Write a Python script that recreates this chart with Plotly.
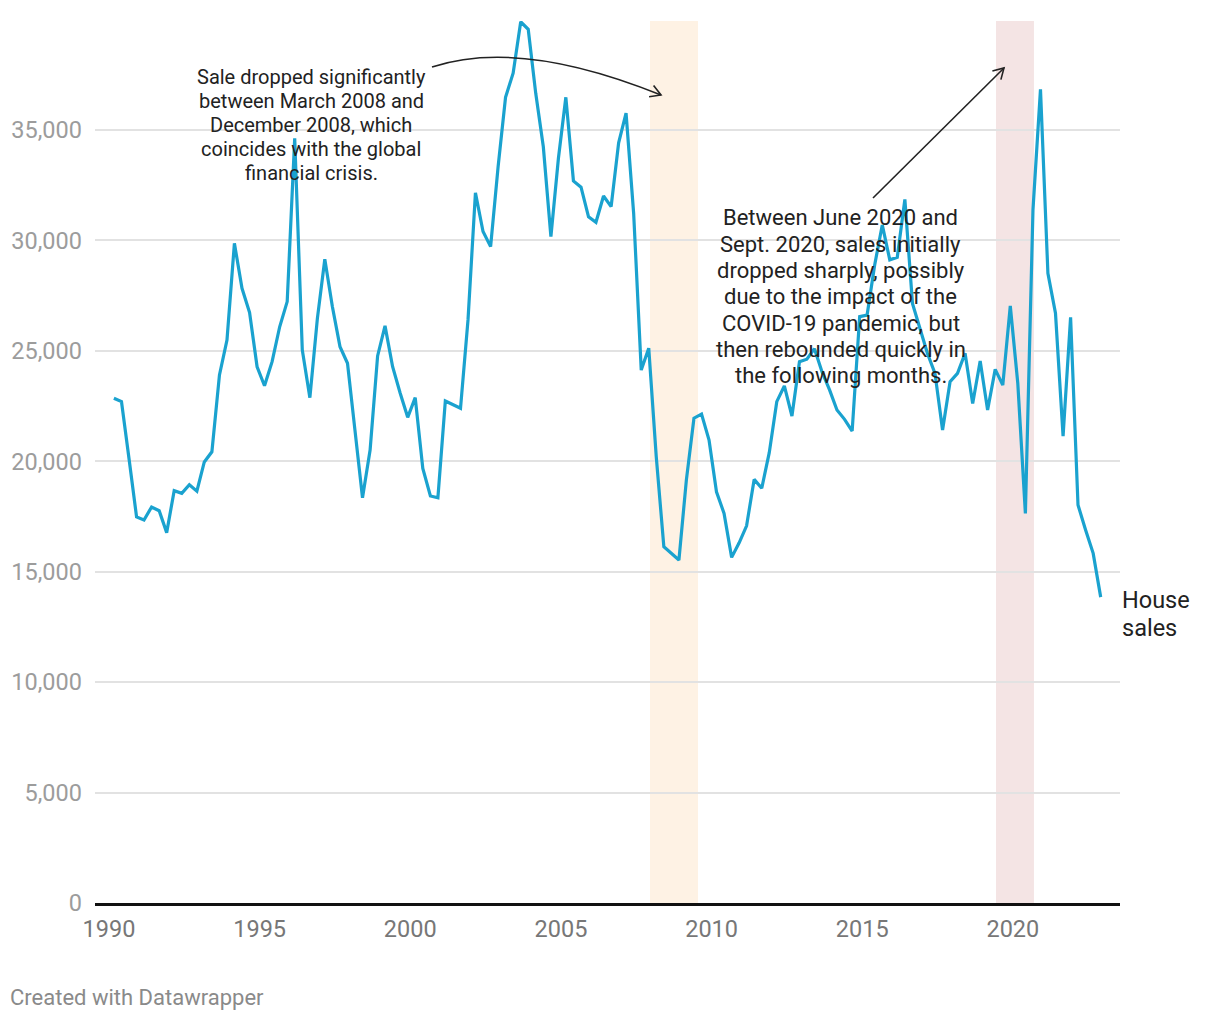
import pandas as pd
import plotly.graph_objects as go

# ---------------- data (quarterly house sales) ----------------
years = list(range(1990, 2023))
sales_by_year = {
    1990: [22850, 22700, 20100, 17480],
    1991: [17340, 17930, 17760, 16770],
    1992: [18670, 18550, 18940, 18650],
    1993: [19970, 20430, 23910, 25490],
    1994: [29870, 27830, 26730, 24280],
    1995: [23420, 24510, 26090, 27230],
    1996: [34620, 25040, 22880, 26470],
    1997: [29150, 27000, 25190, 24440],
    1998: [21420, 18350, 20510, 24770],
    1999: [26130, 24280, 23080, 21990],
    2000: [22880, 19680, 18430, 18350],
    2001: [22730, 22580, 22400, 26400],
    2002: [32160, 30400, 29720, 33340],
    2003: [36480, 37570, 39900, 39560],
    2004: [36660, 34240, 30170, 33720],
    2005: [36480, 32690, 32410, 31070],
    2006: [30820, 32010, 31530, 34420],
    2007: [35760, 31230, 24130, 25120],
    2008: [20210, 16130, 15830, 15530],
    2009: [19150, 21950, 22140, 20960],
    2010: [18620, 17640, 15650, 16310],
    2011: [17080, 19180, 18780, 20390],
    2012: [22700, 23410, 22050, 24510],
    2013: [24620, 25100, 24040, 23230],
    2014: [22320, 21900, 21370, 26550],
    2015: [26620, 28890, 30700, 29120],
    2016: [29240, 31860, 27150, 26020],
    2017: [24890, 23980, 21420, 23600],
    2018: [23980, 24890, 22620, 24540],
    2019: [22320, 24160, 23450, 27030],
    2020: [23530, 17640, 31380, 36840],
    2021: [28510, 26700, 21140, 26520],
    2022: [18020, 16890, 15830, 13850],
}
sales = [v for y in years for v in sales_by_year[y]]
dates = pd.date_range("1990-03-01", periods=len(sales), freq="3MS")

y_ticks = [0, 5000, 10000, 15000, 20000, 25000, 30000, 35000]
x_ticks = ["1990-01-01", "1995-01-01", "2000-01-01", "2005-01-01",
           "2010-01-01", "2015-01-01", "2020-01-01"]
x_tick_labels = ["1990", "1995", "2000", "2005", "2010", "2015", "2020"]

crisis_band = ("2007-12-16", "2009-07-20")
covid_band = ("2019-06-11", "2020-09-13")

note1_lines = ["Sale dropped significantly", "between March 2008 and",
               "December 2008, which", "coincides with the global",
               "financial crisis."]
note2_lines = ["Between June 2020 and", "Sept. 2020, sales initially",
               "dropped sharply, possibly", "due to the impact of the",
               "COVID-19 pandemic, but", "then rebounded quickly in",
               "the following months."]
series_label_lines = ["House", "sales"]

# ---------------- layout geometry (pixels) ----------------
W, H = 1220, 1020
L, R, T, B = 95, 1120, 21, 903
PW, PH = R - L, B - T


def px(x):
    return (x - L) / PW


def py(y):
    return (B - y) / PH


FONT = "Roboto, 'Noto Sans', Arial, sans-serif"
LINE_COLOR = "#1aa2cf"

fig = go.Figure()
fig.add_trace(go.Scatter(
    x=dates, y=sales, mode="lines",
    line=dict(color=LINE_COLOR, width=3.2),
    name="House sales", showlegend=False,
))

shapes = []
for (x0, x1), col in [(crisis_band, "#fef2e4"), (covid_band, "#f4e4e4")]:
    shapes.append(dict(type="rect", xref="x", yref="paper", x0=x0, x1=x1,
                       y0=0, y1=1, fillcolor=col, line=dict(width=0),
                       layer="below"))

# curved arrow (annotation 1)
p0, c1, p2 = (432, 67), (520, 38), (661, 95)
path1 = (f"M {px(p0[0])},{py(p0[1])} Q {px(c1[0])},{py(c1[1])} "
         f"{px(p2[0])},{py(p2[1])}")
head1 = (f"M {px(649.1)},{py(96.7)} L {px(p2[0])},{py(p2[1])} "
         f"L {px(653.6)},{py(85.5)}")
# straight arrow (annotation 2)
path2 = f"M {px(873)},{py(198)} L {px(1004)},{py(68)}"
head2 = (f"M {px(1000.9)},{py(79.6)} L {px(1004)},{py(68)} "
         f"L {px(992.4)},{py(71.1)}")
for p in [path1, head1, path2, head2]:
    shapes.append(dict(type="path", xref="paper", yref="paper", path=p,
                       line=dict(color="#222222", width=1.6),
                       layer="above"))

annotations = []
for i, t in enumerate(note1_lines):
    annotations.append(dict(
        text=t, xref="paper", yref="paper", x=px(311), y=py(77 + 24 * i),
        xanchor="center", yanchor="middle", showarrow=False,
        font=dict(family=FONT, size=20, color="#222222")))
for i, t in enumerate(note2_lines):
    annotations.append(dict(
        text=t, xref="paper", yref="paper", x=px(840.5), y=py(218 + 26.3 * i),
        xanchor="center", yanchor="middle", showarrow=False,
        font=dict(family=FONT, size=22, color="#222222")))
for i, t in enumerate(series_label_lines):
    annotations.append(dict(
        text=t, xref="paper", yref="paper", x=1.0, y=py(600 + 28 * i),
        xanchor="left", yanchor="middle", align="left", showarrow=False,
        font=dict(family=FONT, size=23.5, color="#222222")))
annotations.append(dict(
    text="Created with Datawrapper", xref="paper", yref="paper",
    x=px(8), y=py(997), xanchor="left", yanchor="middle", showarrow=False,
    font=dict(family=FONT, size=22, color="#8a8a8a")))

fig.update_layout(
    width=W, height=H,
    margin=dict(l=L, r=W - R, t=T, b=H - B),
    paper_bgcolor="white", plot_bgcolor="white",
    font=dict(family=FONT),
    shapes=shapes, annotations=annotations,
    xaxis=dict(
        type="date", range=["1989-07-15", "2023-07-23"],
        tickvals=x_ticks, ticktext=x_tick_labels,
        showgrid=False, zeroline=False,
        showline=True, linecolor="#111111", linewidth=2.5,
        ticks="", ticklabelstandoff=3,
        tickfont=dict(family=FONT, size=23.5, color="#777777"),
    ),
    yaxis=dict(
        range=[0, 39935], tickvals=y_ticks, tickformat=",",
        showgrid=True, gridcolor="#e2e2e2", gridwidth=1.5,
        zeroline=False, showline=False,
        ticks="", ticklabelstandoff=12,
        tickfont=dict(family=FONT, size=23.5, color="#9c9c9c"),
    ),
)

fig.write_html("out.html")
